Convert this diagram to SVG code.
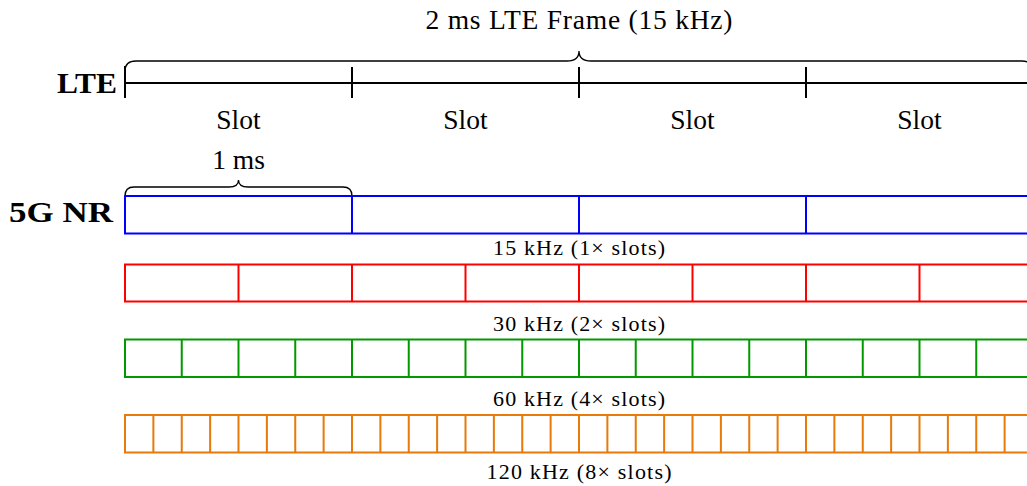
<svg xmlns="http://www.w3.org/2000/svg" width="1027" height="486" viewBox="0 0 1027 486">
<style>
text{font-family:"Liberation Serif","Times New Roman",serif;fill:#000}
.big{font-size:27.5px}
.bold{font-size:29px;font-weight:bold}
.small{font-size:22px}
.brace{fill:none;stroke:#000;stroke-width:1.3}
.axis{stroke:#000;stroke-width:2;fill:none}
.blue{stroke:#0000ff;stroke-width:2;fill:none}
.red{stroke:#ff0000;stroke-width:2;fill:none}
.green{stroke:#009900;stroke-width:2;fill:none}
.orange{stroke:#e8790b;stroke-width:2;fill:none}
</style>
<rect width="1027" height="486" fill="#fff"/>
<g id="connectors">
<path class="brace" d="M125,71 Q125,61 136,61 L567,61 Q579,61 579,51 Q579,61 591,61 L1022,61 Q1033,61 1033,71"/>
<path class="brace" d="M125,196 Q125,187 134,187 L229,187 Q238.5,187 238.5,180 Q238.5,187 248,187 L343,187 Q352,187 352,196"/>
</g>
<g id="title"><text class="big" x="579" y="29" text-anchor="middle" textLength="307" lengthAdjust="spacing">2 ms LTE Frame (15 kHz)</text></g>
<g id="lte">
<text class="bold" x="117" y="93" text-anchor="end" textLength="60" lengthAdjust="spacingAndGlyphs">LTE</text>
<path class="axis" d="M125,83 H1033 M125,66 V98 M352,67 V98 M579,67 V98 M806,67 V98"/>
<text class="big" x="238.5" y="129" text-anchor="middle">Slot</text>
<text class="big" x="465.5" y="129" text-anchor="middle">Slot</text>
<text class="big" x="692.5" y="129" text-anchor="middle">Slot</text>
<text class="big" x="919.5" y="129" text-anchor="middle">Slot</text>
</g>
<g id="one-ms"><text class="big" x="238.5" y="169" text-anchor="middle">1 ms</text></g>
<g id="nr-label"><text class="bold" x="113" y="222" text-anchor="end" textLength="104" lengthAdjust="spacingAndGlyphs">5G NR</text></g>
<g id="nr-15">
<path class="blue" d="M1040,196 H125 V233.5 H1040 M352,196 V233.5 M579,196 V233.5 M806,196 V233.5"/>
<text class="small" x="579" y="254.5" text-anchor="middle" textLength="172" lengthAdjust="spacing">15 kHz (1× slots)</text>
</g>
<g id="nr-30">
<path class="red" d="M1040,264.5 H125 V301.5 H1040 M238.5,264.5 V301.5 M352,264.5 V301.5 M465.5,264.5 V301.5 M579,264.5 V301.5 M692.5,264.5 V301.5 M806,264.5 V301.5 M919.5,264.5 V301.5"/>
<text class="small" x="579" y="330.5" text-anchor="middle" textLength="172" lengthAdjust="spacing">30 kHz (2× slots)</text>
</g>
<g id="nr-60">
<path class="green" d="M1040,339.5 H125 V377 H1040 M181.75,339.5 V377 M238.5,339.5 V377 M295.25,339.5 V377 M352,339.5 V377 M408.75,339.5 V377 M465.5,339.5 V377 M522.25,339.5 V377 M579,339.5 V377 M635.75,339.5 V377 M692.5,339.5 V377 M749.25,339.5 V377 M806,339.5 V377 M862.75,339.5 V377 M919.5,339.5 V377 M976.25,339.5 V377"/>
<text class="small" x="579" y="405.5" text-anchor="middle" textLength="172" lengthAdjust="spacing">60 kHz (4× slots)</text>
</g>
<g id="nr-120">
<path class="orange" d="M1040,415 H125 V452.5 H1040 M153.375,415 V452.5 M181.75,415 V452.5 M210.125,415 V452.5 M238.5,415 V452.5 M266.875,415 V452.5 M295.25,415 V452.5 M323.625,415 V452.5 M352,415 V452.5 M380.375,415 V452.5 M408.75,415 V452.5 M437.125,415 V452.5 M465.5,415 V452.5 M493.875,415 V452.5 M522.25,415 V452.5 M550.625,415 V452.5 M579,415 V452.5 M607.375,415 V452.5 M635.75,415 V452.5 M664.125,415 V452.5 M692.5,415 V452.5 M720.875,415 V452.5 M749.25,415 V452.5 M777.625,415 V452.5 M806,415 V452.5 M834.375,415 V452.5 M862.75,415 V452.5 M891.125,415 V452.5 M919.5,415 V452.5 M947.875,415 V452.5 M976.25,415 V452.5 M1004.625,415 V452.5"/>
<text class="small" x="579" y="478.5" text-anchor="middle" textLength="185" lengthAdjust="spacing">120 kHz (8× slots)</text>
</g>
</svg>
